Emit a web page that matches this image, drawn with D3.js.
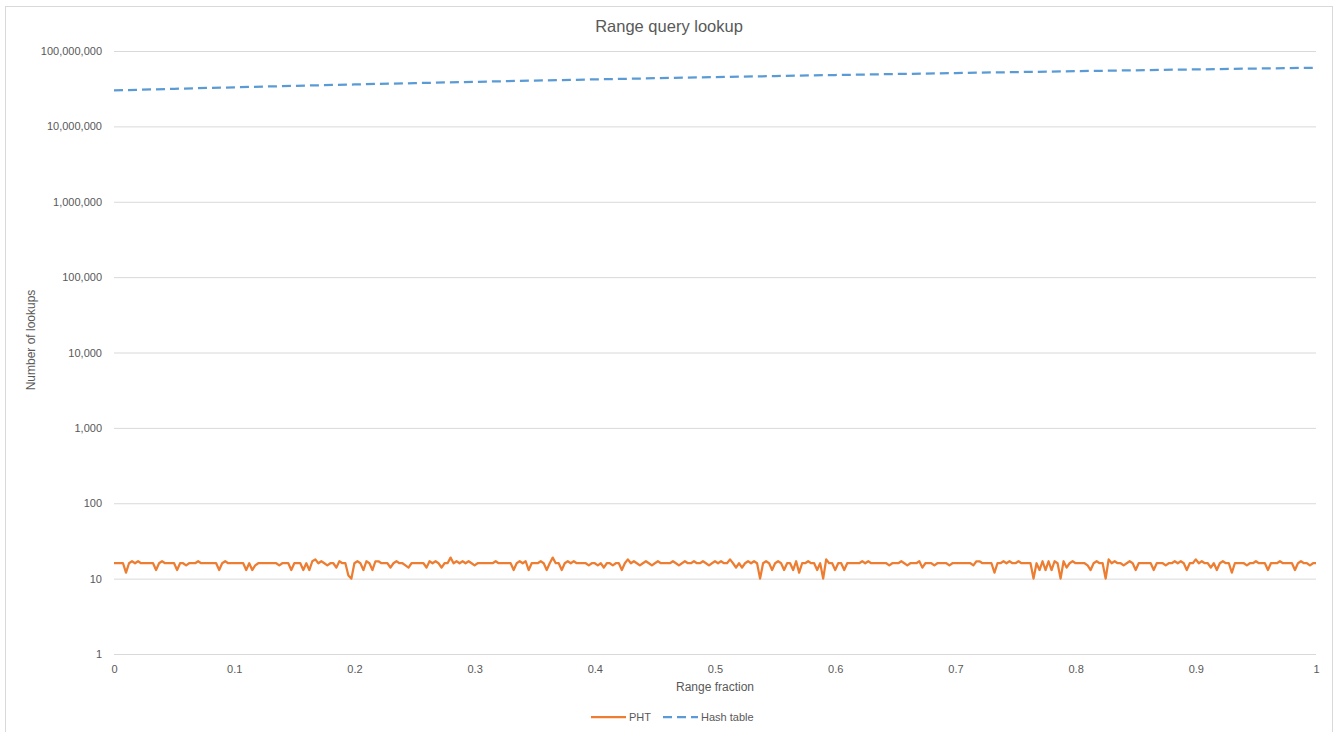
<!DOCTYPE html>
<html>
<head>
<meta charset="utf-8">
<script src="https://cdn.jsdelivr.net/npm/d3@7"></script>
<style>
  html, body { margin: 0; padding: 0; background: #fff; }
  svg { display: block; }
  text { font-family: "Liberation Sans", Arial, sans-serif; fill: #595959; }
</style>
</head>
<body>
<svg id="chart" width="1335" height="732"></svg>
<script>
// Range fraction sampled in 0.0025 steps for the PHT series
const phtStep = 0.0025;
const phtLookups = [
  16,16,16,16,12,16,17,16,17,16,16,16,16,16,13,16,17,16,16,16,
  16,13,16,16,15,16,16,16,17,16,16,16,16,16,16,13,16,17,16,16,
  16,16,16,16,13,16,13,15,16,16,16,16,16,16,16,15,16,16,16,13,
  16,16,16,13,16,13,17,18,16,17,16,15,16,16,14,17,16,16,11,10,
  16,17,16,13,17,16,13,17,17,16,16,16,14,16,17,16,16,15,14,16,
  16,16,16,16,14,17,16,17,16,14,16,16,19,16,17,16,17,16,17,16,
  15,16,16,16,16,16,16,17,16,16,16,16,16,13,16,17,16,17,13,16,
  16,16,17,16,13,16,19,16,16,13,16,17,16,17,16,16,16,16,15,16,
  16,15,16,14,16,16,15,16,16,13,16,18,16,17,16,15,16,17,16,15,
  16,17,16,16,16,16,17,16,15,16,17,16,16,17,16,16,17,16,15,16,
  17,16,17,16,16,18,16,14,16,14,16,17,16,17,16,10,16,17,16,13,
  16,17,16,13,16,16,13,17,12,16,16,17,16,16,13,16,10,18,16,16,
  13,16,16,13,16,16,16,16,16,17,16,17,16,16,16,16,16,16,15,16,
  16,16,17,16,15,16,16,16,17,14,16,16,16,15,16,16,16,16,15,16,
  16,16,16,16,16,16,15,17,17,16,16,16,16,12,16,16,17,16,17,16,
  16,17,16,16,16,16,10,16,13,17,13,17,13,17,16,10,17,14,16,17,
  16,16,16,16,15,13,16,17,16,16,10,18,16,17,16,16,15,16,17,16,
  13,16,16,16,16,16,13,16,16,16,15,16,16,17,16,17,16,13,16,16,
  18,16,17,16,16,14,16,13,16,17,16,16,12,16,16,16,16,15,16,16,
  17,16,16,16,13,16,16,16,17,16,16,16,16,13,16,17,16,16,15,16,
  16
];

// Hash table lookups, sampled every 0.05 of the range
const hashFractions = [0, 0.05, 0.1, 0.15, 0.2, 0.25, 0.3, 0.35, 0.4, 0.45, 0.5,
                       0.55, 0.6, 0.65, 0.7, 0.75, 0.8, 0.85, 0.9, 0.95, 1];
const hashLookups = [30000000, 31500000, 33000000, 34500000, 36000000, 37500000,
                     39000000, 40500000, 42000000, 43500000, 45000000, 46500000,
                     48000000, 49500000, 51000000, 52500000, 54000000, 55500000,
                     57000000, 58500000, 60000000];

const yTicks = [1, 10, 100, 1000, 10000, 100000, 1000000, 10000000, 100000000];
const xTicks = [0, 0.1, 0.2, 0.3, 0.4, 0.5, 0.6, 0.7, 0.8, 0.9, 1];

const seriesNames = ["PHT", "Hash table"];
const colors = { pht: "#ED7D31", hash: "#5B9BD5" };

const svg = d3.select("#chart");
const frame = { left: 5, right: 1333, top: 6 };
const plot = { left: 114, right: 1316, top: 51, bottom: 654 };
const chartCenter = (frame.left + frame.right) / 2;

// Outer chart frame
svg.append("rect")
  .attr("x", frame.left + 0.5).attr("y", frame.top + 0.5)
  .attr("width", frame.right - frame.left - 1).attr("height", 740)
  .attr("fill", "#fff").attr("stroke", "#D9D9D9").attr("stroke-width", 1);

const x = d3.scaleLinear().domain([0, 1]).range([plot.left, plot.right]);
const y = d3.scaleLog().domain([1, 100000000]).range([plot.bottom, plot.top]);

// Horizontal gridlines + y labels
const yAxis = d3.axisLeft(y)
  .tickValues(yTicks)
  .tickSize(-(plot.right - plot.left))
  .tickPadding(12)
  .tickFormat(d3.format(","));
const gy = svg.append("g")
  .attr("transform", `translate(${plot.left},0)`)
  .call(yAxis);
gy.select(".domain").remove();
gy.selectAll(".tick line").attr("stroke", "#D9D9D9").attr("stroke-width", 1);
gy.selectAll(".tick text")
  .attr("font-size", 11)
  .attr("fill", "#595959")
  .style("font-family", "'Liberation Sans', Arial, sans-serif");

// X labels (no axis line; the bottom gridline doubles as the baseline)
const xAxis = d3.axisBottom(x)
  .tickValues(xTicks)
  .tickSize(0)
  .tickPadding(11)
  .tickFormat(d => String(d));
const gx = svg.append("g")
  .attr("transform", `translate(0,${plot.bottom})`)
  .call(xAxis);
gx.select(".domain").remove();
gx.selectAll(".tick text")
  .attr("font-size", 11)
  .attr("fill", "#595959")
  .style("font-family", "'Liberation Sans', Arial, sans-serif");

// Series lines
const phtData = phtLookups.map((v, i) => ({ f: i * phtStep, v }));
const hashData = hashFractions.map((f, i) => ({ f, v: hashLookups[i] }));

const line = d3.line().x(d => x(d.f)).y(d => y(d.v));

svg.append("path")
  .datum(phtData)
  .attr("d", line)
  .attr("fill", "none")
  .attr("stroke", colors.pht)
  .attr("stroke-width", 2.25)
  .attr("stroke-linejoin", "round");

svg.append("path")
  .datum(hashData)
  .attr("d", line)
  .attr("fill", "none")
  .attr("stroke", colors.hash)
  .attr("stroke-width", 2.25)
  .attr("stroke-dasharray", "9,5");

// Titles
svg.append("text")
  .attr("x", chartCenter)
  .attr("y", 32)
  .attr("text-anchor", "middle")
  .attr("font-size", 16.5)
  .text("Range query lookup");

svg.append("text")
  .attr("x", (plot.left + plot.right) / 2)
  .attr("y", 691)
  .attr("text-anchor", "middle")
  .attr("font-size", 12)
  .text("Range fraction");

svg.append("text")
  .attr("transform", `translate(35,340) rotate(-90)`)
  .attr("text-anchor", "middle")
  .attr("font-size", 12)
  .text("Number of lookups");

// Legend
const legend = svg.append("g").attr("transform", "translate(0,717)");
const legendItems = [
  { name: seriesNames[0], color: colors.pht, dash: null, x0: 591 },
  { name: seriesNames[1], color: colors.hash, dash: "9,5", x0: 663 }
];
legendItems.forEach(it => {
  legend.append("line")
    .attr("x1", it.x0).attr("x2", it.x0 + 35)
    .attr("y1", 0).attr("y2", 0)
    .attr("stroke", it.color)
    .attr("stroke-width", 2.25)
    .attr("stroke-dasharray", it.dash);
  legend.append("text")
    .attr("x", it.x0 + 38)
    .attr("y", 4)
    .attr("font-size", 11)
    .text(it.name);
});
</script>
</body>
</html>
